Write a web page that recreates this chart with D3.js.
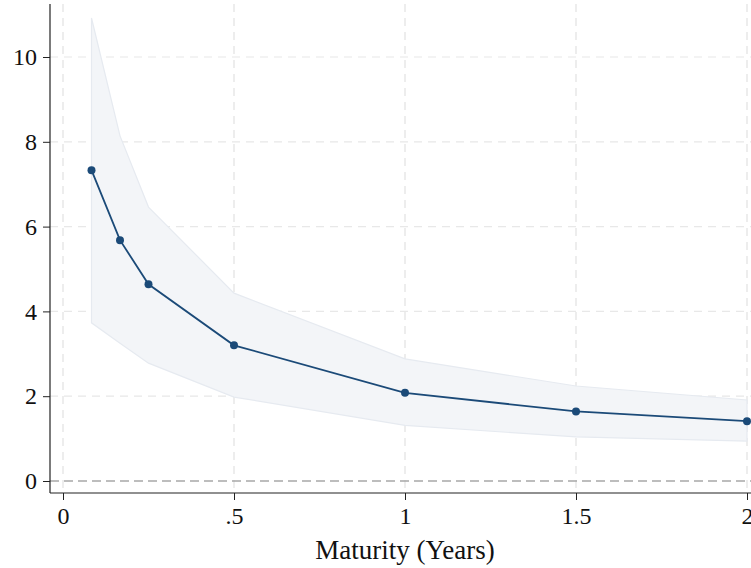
<!DOCTYPE html>
<html>
<head>
<meta charset="utf-8">
<script src="https://cdn.jsdelivr.net/npm/d3@7"></script>
<style>
  body { margin: 0; background: #fff; }
  text { font-family: "Liberation Serif", "DejaVu Serif", serif; }
</style>
</head>
<body>
<div id="grafico"></div>
<script>
// dados
const maturity = [1/12, 2/12, 0.25, 0.5, 1, 1.5, 2];
const estimate = [7.33, 5.68, 4.64, 3.20, 2.08, 1.64, 1.41];
const upperCI  = [10.92, 8.14, 6.46, 4.43, 2.88, 2.24, 1.91];
const lowerCI  = [3.73, 3.25, 2.78, 1.98, 1.31, 1.04, 0.94];
const xTicks = [0, 0.5, 1, 1.5, 2];
const xTickLabels = ["0", ".5", "1", "1.5", "2"];
const yTicks = [0, 2, 4, 6, 8, 10];

const width = 751, height = 568;
const plot = { left: 50, right: 751, top: 4, bottom: 493 };

const svg = d3.select("#grafico")
  .append("svg")
  .attr("width", width)
  .attr("height", height);

const x = d3.scaleLinear().domain([0, 2]).range([63, 747]);
const y = d3.scaleLinear().domain([0, 10]).range([481, 57]);

// grade
svg.append("g").selectAll("line")
  .data(xTicks)
  .join("line")
  .attr("x1", d => x(d)).attr("x2", d => x(d))
  .attr("y1", plot.top).attr("y2", plot.bottom)
  .attr("stroke", "#e2e2e2")
  .attr("stroke-width", 1.2)
  .attr("stroke-dasharray", "8,6");

svg.append("g").selectAll("line")
  .data(yTicks.filter(d => d !== 0))
  .join("line")
  .attr("x1", plot.left).attr("x2", plot.right)
  .attr("y1", d => y(d)).attr("y2", d => y(d))
  .attr("stroke", "#e8e8e8")
  .attr("stroke-width", 1.2)
  .attr("stroke-dasharray", "8,6");

// intervalo de confianca
const rows = maturity.map((m, i) => ({ m, est: estimate[i], lo: lowerCI[i], hi: upperCI[i] }));

svg.append("path")
  .datum(rows)
  .attr("d", d3.area().x(d => x(d.m)).y0(d => y(d.lo)).y1(d => y(d.hi)))
  .attr("fill", "#f3f5f8")
  .attr("stroke", "#e6eaf0")
  .attr("stroke-width", 1.2);

// linha do zero
svg.append("line")
  .attr("x1", plot.left).attr("x2", plot.right)
  .attr("y1", y(0)).attr("y2", y(0))
  .attr("stroke", "#a8a8a8")
  .attr("stroke-width", 1.5)
  .attr("stroke-dasharray", "9,5");

// estimativas
svg.append("path")
  .datum(rows)
  .attr("d", d3.line().x(d => x(d.m)).y(d => y(d.est)))
  .attr("fill", "none")
  .attr("stroke", "#1b4a78")
  .attr("stroke-width", 1.8);

svg.append("g").selectAll("circle")
  .data(rows)
  .join("circle")
  .attr("cx", d => x(d.m))
  .attr("cy", d => y(d.est))
  .attr("r", 4)
  .attr("fill", "#1b4a78");

// eixos
const xAxis = d3.axisBottom(x)
  .tickValues(xTicks)
  .tickFormat((d, i) => xTickLabels[i])
  .tickSize(7)
  .tickPadding(7);

const gx = svg.append("g")
  .attr("transform", `translate(0, ${plot.bottom})`)
  .call(xAxis);
gx.select(".domain").attr("d", `M${plot.left},0H${plot.right}`).attr("stroke", "#222").attr("stroke-width", 1.2);
gx.selectAll(".tick line").attr("stroke", "#222");
gx.selectAll("text").attr("font-size", "24px").attr("fill", "#111").style("font-family", "'Liberation Serif', serif");

const yAxis = d3.axisLeft(y)
  .tickValues(yTicks)
  .tickSize(7)
  .tickPadding(6);

const gy = svg.append("g")
  .attr("transform", `translate(${plot.left}, 0)`)
  .call(yAxis);
gy.select(".domain").attr("d", `M0,${plot.top}V${plot.bottom}`).attr("stroke", "#222").attr("stroke-width", 1.2);
gy.selectAll(".tick line").attr("stroke", "#222");
gy.selectAll("text").attr("font-size", "24px").attr("fill", "#111").style("font-family", "'Liberation Serif', serif");

// titulo do eixo x
svg.append("text")
  .attr("x", 405)
  .attr("y", 559)
  .attr("text-anchor", "middle")
  .attr("font-size", "27px")
  .attr("fill", "#111")
  .text("Maturity (Years)");
</script>
</body>
</html>
